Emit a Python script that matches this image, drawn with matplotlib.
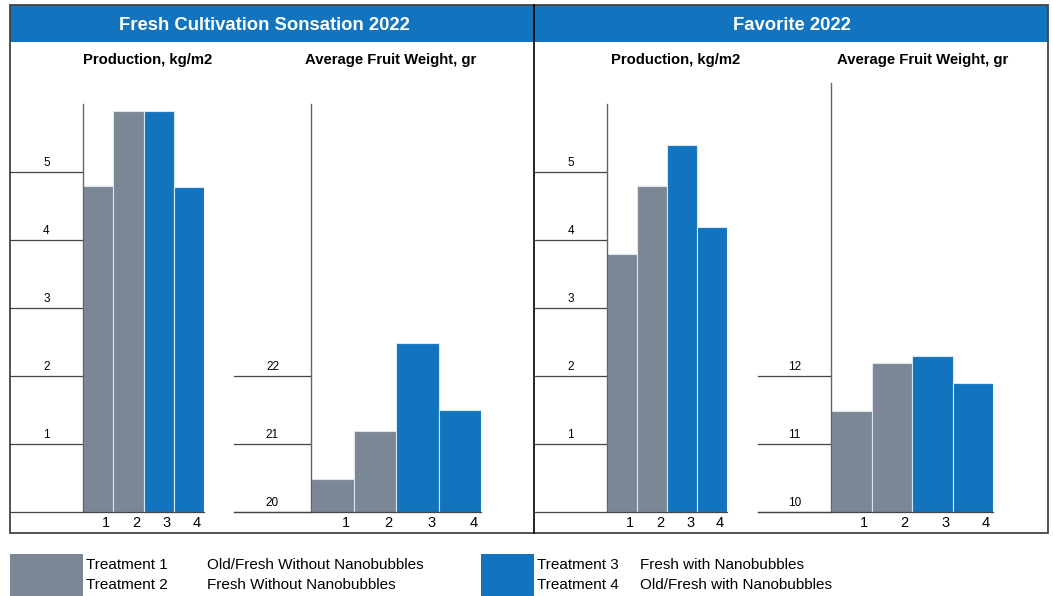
import matplotlib
matplotlib.use("Agg")
import matplotlib.pyplot as plt
from matplotlib.patches import Rectangle

# ---- data -------------------------------------------------------------
treatments = ["1", "2", "3", "4"]
sensation_production = [4.80, 5.89, 5.89, 4.78]
sensation_weight = [20.49, 21.19, 22.49, 21.50]
favorite_production = [3.79, 4.79, 5.39, 4.19]
favorite_weight = [11.49, 12.19, 12.29, 11.89]

group_titles = ["Fresh Cultivation Sonsation 2022", "Favorite 2022"]
panel_titles = ["Production, kg/m2", "Average Fruit Weight, gr",
                "Production, kg/m2", "Average Fruit Weight, gr"]
legend_names = ["Treatment 1", "Treatment 2", "Treatment 3", "Treatment 4"]
legend_desc = ["Old/Fresh Without Nanobubbles", "Fresh Without Nanobubbles",
               "Fresh with Nanobubbles", "Old/Fresh with Nanobubbles"]

GRAY = "#7b8794"
BLUE = "#1273be"
bar_colors = [GRAY, GRAY, BLUE, BLUE]

W, H = 1053, 596
plt.rcParams["font.family"] = ["Liberation Sans", "DejaVu Sans"]

fig = plt.figure(figsize=(W / 100, H / 100), dpi=100)

# background axes in pixel coordinates for the frame, header and legend
bg = fig.add_axes([0, 0, 1, 1], zorder=0)
bg.set_xlim(0, W)
bg.set_ylim(H, 0)
bg.axis("off")

bg.add_patch(Rectangle((10, 5), 1038, 37, facecolor=BLUE, edgecolor="none"))
bg.add_patch(Rectangle((10, 5), 1038, 528, facecolor="none",
                       edgecolor="#444444", linewidth=1.3))
bg.plot([533.5, 533.5], [5, 533], color="black", linewidth=1.2)

for title, cx in zip(group_titles, [264, 792]):
    bg.text(cx, 25, title, color="white", fontsize=13.3, fontweight="bold",
            ha="center", va="center")

for title, cx in zip(panel_titles, [148, 391, 676, 923]):
    bg.text(cx, 60, title, fontsize=10.7, fontweight="bold",
            ha="center", va="center")


def px_axes(x0, y0, x1, y1):
    return fig.add_axes([x0 / W, 1 - y1 / H, (x1 - x0) / W, (y1 - y0) / H],
                        zorder=2)


def bar_panel(box, lead_x, values, ylim, ticks, label_shift):
    x0, y0, x1, y1 = box
    ax = px_axes(x0, y0, x1, y1)
    pos = list(range(1, len(values) + 1))
    ax.bar(pos, values, width=1.0, color=bar_colors,
           edgecolor="#dce4ee", linewidth=0.8, zorder=2)
    ax.set_xlim(0.5, len(values) + 0.5)
    ax.set_ylim(*ylim)
    for s in ["top", "right", "bottom"]:
        ax.spines[s].set_visible(False)
    ax.spines["left"].set_color("#666666")
    ax.spines["left"].set_linewidth(1.0)
    ax.set_xticks([])
    ax.set_yticks([])

    lead = (x0 - lead_x) / (x1 - x0)
    for t in ticks:
        ax.axhline(t, xmin=-lead, xmax=0, color="#444444", linewidth=0.9,
                   clip_on=False)
        ax.annotate(str(t), (-lead / 2, t), xycoords=ax.get_yaxis_transform(),
                    xytext=(0, 2), textcoords="offset points",
                    ha="center", va="bottom", fontsize=8.5)
    ax.axhline(ylim[0], xmin=-lead, xmax=1, color="#444444", linewidth=0.9,
               clip_on=False, zorder=3)
    for p, lab in zip(pos, treatments):
        ax.annotate(lab, (p + label_shift, ylim[0]), xytext=(0, -3),
                    textcoords="offset points", ha="center", va="top",
                    fontsize=10.5)
    return ax


bar_panel((83, 104, 204, 512), 10, sensation_production, (0, 6),
          [1, 2, 3, 4, 5], 0.27)
bar_panel((311, 104, 481, 512), 234, sensation_weight, (20, 26),
          [20, 21, 22], 0.33)
bar_panel((607, 104, 727, 512), 534, favorite_production, (0, 6),
          [1, 2, 3, 4, 5], 0.27)
bar_panel((831, 83, 993, 512), 758, favorite_weight, (10, 16.3),
          [10, 11, 12], 0.32)

# ---- legend -----------------------------------------------------------
bg.add_patch(Rectangle((10, 554), 73, 42, facecolor=GRAY, edgecolor="none"))
bg.add_patch(Rectangle((481, 554), 53, 42, facecolor=BLUE, edgecolor="none"))
rows = [(86, 207, 565), (86, 207, 585), (537, 640, 565), (537, 640, 585)]
for (nx, dx, y), name, desc in zip(rows, legend_names, legend_desc):
    bg.text(nx, y, name, fontsize=11, va="center")
    bg.text(dx, y, desc, fontsize=11, va="center")

fig.savefig("out.png", dpi=100)
